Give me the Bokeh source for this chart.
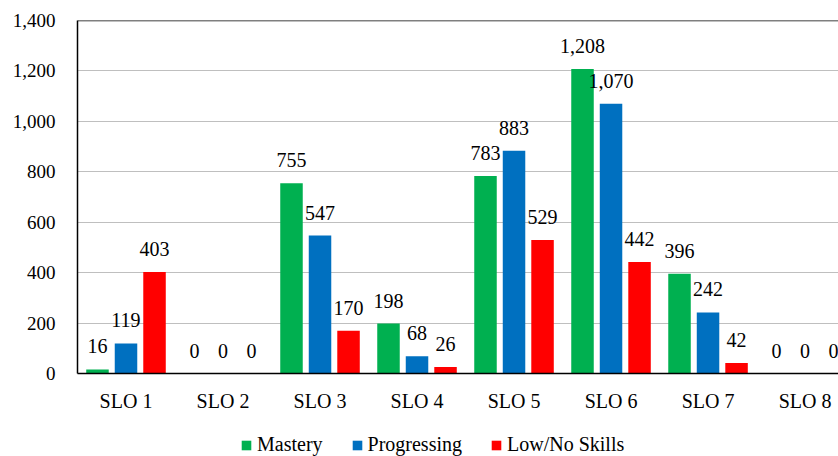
import numpy as np
from bokeh.plotting import figure
from bokeh.layouts import column
from bokeh.models import (ColumnDataSource, Range1d, FixedTicker, NumeralTickFormatter,
                          LabelSet, Legend, LegendItem, Span)
from bokeh.embed import file_html
from bokeh.resources import INLINE

categories = ["SLO 1", "SLO 2", "SLO 3", "SLO 4", "SLO 5", "SLO 6", "SLO 7", "SLO 8"]
mastery = [16, 0, 755, 198, 783, 1208, 396, 0]
progressing = [119, 0, 547, 68, 883, 1070, 242, 0]
low_no = [403, 0, 170, 26, 529, 442, 42, 0]
series_names = ["Mastery", "Progressing", "Low/No Skills"]
colors = ["#00B050", "#0070C0", "#FF0000"]
y_ticks = [0, 200, 400, 600, 800, 1000, 1200, 1400]

FONT = "'Liberation Serif', 'Times New Roman', serif"

p = figure(width=838, height=418, output_backend="svg", toolbar_location=None,
           x_range=Range1d(0, 7.845), y_range=Range1d(0, 1400),
           min_border_left=77, min_border_right=0, min_border_top=20, min_border_bottom=45)
p.outline_line_color = None
p.background_fill_color = "white"
p.border_fill_color = "white"

# legend-only strip below the chart (its renderers lie outside its ranges)
lg = figure(width=838, height=38, output_backend="svg", toolbar_location=None,
            x_range=Range1d(-101, -100), y_range=Range1d(-101, -100),
            x_axis_type=None, y_axis_type=None,
            min_border_left=0, min_border_right=0, min_border_top=0, min_border_bottom=0)
lg.outline_line_color = None
lg.xgrid.visible = False
lg.ygrid.visible = False
lg.background_fill_color = "white"
lg.border_fill_color = "white"

centers = np.arange(len(categories)) + 0.5
offsets = [-0.294, 0.0, 0.294]
bar_w = 0.232
legend_items = []
for vals, name, col, off in zip([mastery, progressing, low_no], series_names, colors, offsets):
    src = ColumnDataSource(dict(x=centers + off, top=vals,
                                lbl=[f"{v:,}" for v in vals]))
    p.vbar(x="x", top="top", width=bar_w, bottom=0, source=src,
           fill_color=col, line_color=None)
    r2 = lg.vbar(x="x", top="top", width=bar_w, bottom=0, source=src,
                 fill_color=col, line_color=None)
    legend_items.append(LegendItem(label=name, renderers=[r2]))
    labels = LabelSet(x="x", y="top", text="lbl", source=src, y_offset=16,
                      text_align="center", text_baseline="alphabetic",
                      text_font=FONT, text_font_size="20px", text_color="#000000")
    p.add_layout(labels)

p.add_layout(Span(location=1400, dimension="width", line_color="black", line_width=1.5))

# axes
p.xaxis.ticker = FixedTicker(ticks=list(centers))
p.xaxis.major_label_overrides = {float(c): n for c, n in zip(centers, categories)}
p.xaxis.major_tick_line_color = None
p.xaxis.minor_tick_line_color = None
p.xaxis.axis_line_color = "black"
p.xaxis.axis_line_width = 1.5
p.xaxis.major_label_standoff = 10
p.xaxis.major_label_text_font = FONT
p.xaxis.major_label_text_font_size = "20px"
p.xaxis.major_label_text_color = "#000000"

p.yaxis.ticker = FixedTicker(ticks=y_ticks)
p.yaxis.formatter = NumeralTickFormatter(format="0,0")
p.yaxis.major_tick_line_color = None
p.yaxis.minor_tick_line_color = None
p.yaxis.axis_line_color = "black"
p.yaxis.axis_line_width = 1.5
p.yaxis.major_label_standoff = 16
p.yaxis.major_label_text_font = FONT
p.yaxis.major_label_text_font_size = "19px"
p.yaxis.major_label_text_color = "#000000"

p.xgrid.grid_line_color = None
p.ygrid.grid_line_color = "#BFBFBF"
p.ygrid.grid_line_width = 1
p.ygrid.ticker = FixedTicker(ticks=y_ticks)

legend = Legend(items=legend_items,
                orientation="horizontal", location=(163, 0),
                label_text_font=FONT, label_text_font_size="20px",
                label_text_color="#000000",
                glyph_width=12, glyph_height=12, label_standoff=5, spacing=28,
                padding=0, margin=0, border_line_color=None, background_fill_alpha=0)
lg.add_layout(legend, "center")

layout = column(p, lg, spacing=0)
open("out.html", "w").write(file_html(layout, INLINE))
